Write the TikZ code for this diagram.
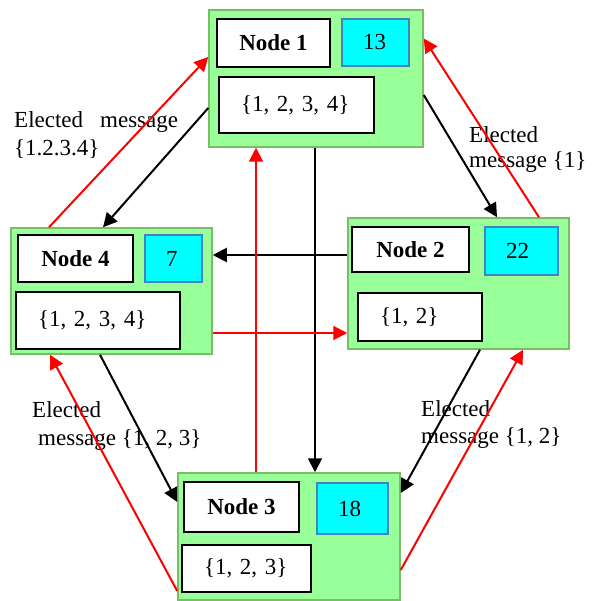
\documentclass[tikz,border=0pt]{standalone}
\usepackage{fontspec}
\setmainfont{Liberation Serif}
\usetikzlibrary{arrows.meta}

\definecolor{procfill}{RGB}{153,255,153}
\definecolor{procedge}{RGB}{120,190,100}
\definecolor{idfill}{RGB}{0,255,255}
\definecolor{idedge}{RGB}{70,130,190}

\tikzset{
  proc/.style={draw=procedge,fill=procfill,line width=1.5pt,inner sep=0pt},
  namebox/.style={draw,fill=white,line width=2pt,inner sep=0pt,
    font=\fontsize{23}{27}\selectfont\bfseries},
  idbox/.style={draw=idedge,fill=idfill,line width=1.2pt,align=left,inner xsep=21pt,inner ysep=0pt},
  setbox/.style={draw,fill=white,line width=2pt,align=left,inner xsep=22pt,inner ysep=0pt},
  msg/.style={anchor=north west,align=left,inner sep=0pt},
  probe/.style={->,line width=2pt,black},
  elect/.style={->,line width=2pt,red}
}

\begin{document}
\begin{tikzpicture}[x=1pt,y=-1pt,>={Triangle[length=14pt,width=14pt]},
    font=\fontsize{23}{27}\selectfont]
  \useasboundingbox (0,0) rectangle (591,601);

  % messages
  \node[msg] (m41) at (14,111) {Elected\hspace{17pt}message\\[1pt]\{1.2.3.4\}};
  \node[msg] (m12) at (469,126) {Elected\\[-2pt]message \{1\}};
  \node[msg] (m34) at (32,401) {Elected\\[1pt]\hspace{6pt}message \{1, 2, 3\}};
  \node[msg] (m23) at (421,400) {Elected\\message \{1, 2\}};

  % node 1
  \node[proc,minimum width=214pt,minimum height=137pt] (n1) at (316,78.5) {};
  \node[namebox,minimum width=113pt,minimum height=48pt] (n1name) at (273.5,43) {Node 1};
  \node[idbox,text width=25pt,minimum height=47pt] (n1id) at (375.5,42.5) {13};
  \node[setbox,text width=111pt,minimum height=56pt] (n1set) at (296.5,105) {\{1, 2, 3, 4\}};

  % node 2
  \node[proc,minimum width=221pt,minimum height=131pt] (n2) at (458.5,283.5) {};
  \node[namebox,minimum width=117pt,minimum height=45pt] (n2name) at (410.5,249.5) {Node 2};
  \node[idbox,text width=31pt,minimum height=48pt] (n2id) at (521.5,251) {22};
  \node[setbox,text width=80pt,minimum height=48pt] (n2set) at (420,317) {\{1, 2\}};

  % node 3
  \node[proc,minimum width=222pt,minimum height=127pt] (n3) at (289,536.5) {};
  \node[namebox,minimum width=115pt,minimum height=50pt] (n3name) at (241.5,507) {Node 3};
  \node[idbox,text width=29pt,minimum height=51pt] (n3id) at (352.5,508.5) {18};
  \node[setbox,text width=85pt,minimum height=47pt] (n3set) at (246.5,568.5) {\{1, 2, 3\}};

  % node 4
  \node[proc,minimum width=201pt,minimum height=126pt] (n4) at (111.5,291) {};
  \node[namebox,minimum width=115pt,minimum height=47pt] (n4name) at (75.5,258.5) {Node 4};
  \node[idbox,text width=15pt,minimum height=47pt] (n4id) at (173.5,258.5) {7};
  \node[setbox,text width=120pt,minimum height=57pt] (n4set) at (98,320.5) {\{1, 2, 3, 4\}};

  % probing messages
  \draw[probe] ([shift={(0,29.5)}]n1.west) -- ([shift={(-8.5,0)}]n4.north);
  \draw[probe] ([shift={(0,16.5)}]n1.east) -- ([shift={(38.5,0)}]n2.north);
  \draw[probe] ([shift={(-1,0)}]n1.south) -- ([shift={(26,0)}]n3.north);
  \draw[probe] ([shift={(0,-28.5)}]n2.west) -- ([shift={(0,-36)}]n4.east);
  \draw[probe] ([shift={(-11.5,0)}]n4.south) -- ([shift={(0,-34.5)}]n3.west);
  \draw[probe] ([shift={(21.5,0)}]n2.south) -- ([shift={(0,-43.5)}]n3.east);

  % elected messages
  \draw[elect] ([shift={(-62.5,0)}]n4.north) -- ([shift={(0,-21.5)}]n1.west);
  \draw[elect] ([shift={(80.5,0)}]n2.north) -- ([shift={(0,-40)}]n1.east);
  \draw[elect] ([shift={(-33,0)}]n3.north) -- ([shift={(-60,0)}]n1.south);
  \draw[elect] ([shift={(0,42)}]n4.east) -- ([shift={(0,49.5)}]n2.west);
  \draw[elect] ([shift={(0,54.5)}]n3.west) -- ([shift={(-61.5,0)}]n4.south);
  \draw[elect] ([shift={(0,33.5)}]n3.east) -- ([shift={(64.5,0)}]n2.south);
\end{tikzpicture}
\end{document}
